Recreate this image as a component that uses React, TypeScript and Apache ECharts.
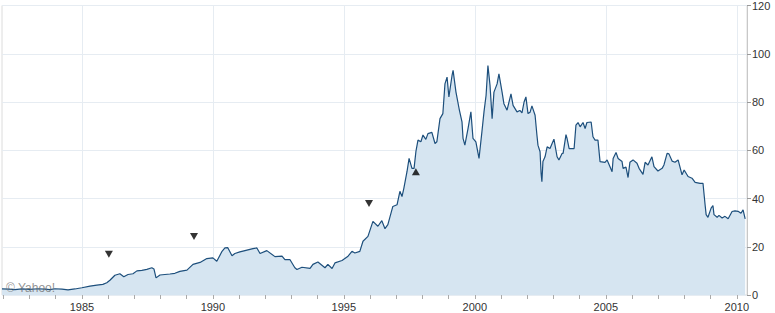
import React, { useEffect, useRef } from "react";
import * as echarts from "echarts";

// Decimal-year dates and closing prices
const years = [
  1981.95, 1982.21, 1982.44, 1982.71, 1983.01, 1983.32, 1983.59, 1983.78, 1983.97, 1984.24,
  1984.47, 1984.73, 1985.0, 1985.31, 1985.57, 1985.8, 1985.95, 1986.07, 1986.26, 1986.45,
  1986.6, 1986.76, 1986.95, 1987.1, 1987.29, 1987.48, 1987.67, 1987.75, 1987.83, 1987.98,
  1988.17, 1988.36, 1988.55, 1988.74, 1989.01, 1989.24, 1989.51, 1989.77, 1990.0, 1990.15,
  1990.35, 1990.46, 1990.57, 1990.73, 1990.84, 1991.03, 1991.3, 1991.53, 1991.68, 1991.8,
  1992.06, 1992.37, 1992.64, 1992.75, 1992.94, 1993.13, 1993.21, 1993.4, 1993.71, 1993.82,
  1994.01, 1994.28, 1994.39, 1994.55, 1994.66, 1994.93, 1995.16, 1995.31, 1995.42, 1995.61,
  1995.73, 1995.92, 1996.11, 1996.3, 1996.45, 1996.57, 1996.68, 1996.87, 1997.03, 1997.14,
  1997.22, 1997.29, 1997.41, 1997.49, 1997.6, 1997.68, 1997.75, 1997.83, 1997.94, 1998.02,
  1998.13, 1998.21, 1998.36, 1998.48, 1998.55, 1998.67, 1998.78, 1998.86, 1998.94, 1999.01,
  1999.13, 1999.17, 1999.28, 1999.4, 1999.51, 1999.55, 1999.62, 1999.74, 1999.85, 1999.93,
  2000.04, 2000.16, 2000.27, 2000.35, 2000.43, 2000.5, 2000.58, 2000.66, 2000.73, 2000.85,
  2000.92, 2001.04, 2001.11, 2001.23, 2001.38, 2001.46, 2001.61, 2001.72, 2001.8, 2001.88,
  2001.95, 2002.03, 2002.11, 2002.18, 2002.3, 2002.37, 2002.41, 2002.49, 2002.53, 2002.56,
  2002.6, 2002.68, 2002.76, 2002.87, 2002.95, 2003.02, 2003.14, 2003.21, 2003.33, 2003.37,
  2003.48, 2003.52, 2003.6, 2003.71, 2003.79, 2003.86, 2003.94, 2004.02, 2004.13, 2004.21,
  2004.28, 2004.44, 2004.51, 2004.59, 2004.7, 2004.78, 2004.97, 2005.05, 2005.16, 2005.24,
  2005.28, 2005.39, 2005.47, 2005.62, 2005.66, 2005.77, 2005.85, 2005.92, 2006.04, 2006.19,
  2006.27, 2006.42, 2006.5, 2006.61, 2006.76, 2006.84, 2006.99, 2007.15, 2007.22, 2007.34,
  2007.41, 2007.53, 2007.64, 2007.76, 2007.91, 2007.99, 2008.14, 2008.29, 2008.41, 2008.6,
  2008.71, 2008.79, 2008.83, 2008.9, 2009.02, 2009.09, 2009.13, 2009.25, 2009.32, 2009.44,
  2009.55, 2009.67, 2009.82, 2009.93, 2010.05, 2010.16, 2010.24, 2010.32,
];

const prices = [
  2.5, 2.4, 2.2, 2.5, 2.3, 2.6, 2.4, 2.2, 2.6, 2.4,
  2.1, 2.5, 3.0, 3.7, 4.1, 4.4, 5.1, 6.1, 8.2, 8.8,
  7.6, 8.5, 8.8, 10.0, 10.2, 10.6, 11.3, 10.8, 7.1, 8.3,
  8.5, 8.7, 9.0, 9.8, 10.3, 12.7, 13.5, 15.1, 15.4, 14.0,
  18.1, 19.5, 19.6, 16.3, 17.2, 17.9, 18.6, 19.2, 19.5, 17.2,
  18.4, 15.9, 16.1, 14.7, 14.7, 11.3, 10.6, 11.5, 11.0, 12.7,
  13.7, 11.3, 12.7, 11.0, 13.3, 14.3, 16.1, 18.1, 17.4, 18.1,
  22.3, 24.3, 30.5, 28.5, 30.8, 27.5, 29.2, 36.7, 37.4, 43.0,
  40.8, 44.2, 51.1, 56.6, 52.5, 52.5, 59.4, 64.2, 63.5, 66.3,
  64.5, 66.9, 67.4, 62.8, 63.5, 73.1, 75.2, 87.5, 90.3, 82.1,
  91.0, 93.1, 84.1, 77.2, 71.8, 64.9, 62.1, 69.0, 75.9, 64.9,
  63.5, 56.6, 67.6, 75.9, 82.8, 95.1, 86.9, 73.1, 84.1, 87.5,
  91.7, 84.1, 79.3, 76.6, 83.4, 78.6, 75.9, 76.5, 75.5, 80.0,
  82.1, 75.2, 75.8, 78.4, 74.5, 66.3, 62.1, 59.4, 50.4, 47.0,
  55.3, 57.3, 61.4, 60.7, 62.8, 64.6, 57.3, 56.0, 58.7, 58.7,
  66.5, 64.9, 60.7, 60.7, 60.7, 70.4, 71.5, 69.7, 71.5, 69.0,
  71.5, 71.7, 65.6, 64.2, 64.2, 55.3, 55.0, 56.0, 53.2, 51.1,
  56.6, 59.1, 56.6, 55.3, 52.5, 53.0, 48.7, 55.0, 56.0, 54.6,
  52.5, 50.0, 55.0, 53.9, 57.3, 53.2, 51.4, 52.5, 53.9, 58.7,
  58.5, 55.5, 55.0, 56.0, 49.8, 51.8, 49.1, 48.4, 46.7, 46.3,
  46.3, 37.4, 33.3, 32.2, 36.0, 37.1, 33.3, 32.2, 33.0, 31.9,
  32.6, 31.6, 34.6, 34.9, 34.7, 33.9, 35.3, 31.6,
];

// Event markers (splits / dividends)
const eventYears = [1986.03, 1989.28, 1995.96, 1997.75];
const eventLevels = [16.9, 24.3, 37.9, 51.1];
const eventPointsDown = [true, true, true, false];

const minorTickYears = [
  1982, 1983, 1984, 1985, 1986, 1987, 1988, 1989, 1990, 1991, 1992, 1993, 1994, 1995,
  1996, 1997, 1998, 1999, 2000, 2001, 2002, 2003, 2004, 2005, 2006, 2007, 2008, 2009, 2010,
];
const labelYears = [1985, 1990, 1995, 2000, 2005, 2010];

const X_MIN = 1981.95;
const X_MAX = 2010.39;
const FONT = "'Liberation Sans', Arial, sans-serif";

export default function App() {
  const ref = useRef<HTMLDivElement>(null);

  useEffect(() => {
    if (!ref.current) return;
    const chart = echarts.init(ref.current, undefined, { renderer: "svg" });
    const gridColor = "#e6ecf2";
    chart.setOption({
      animation: false,
      grid: {
        left: 2,
        top: 3,
        right: 28,
        bottom: 18,
        show: true,
        borderColor: "#dcdcdc",
        borderWidth: 1,
        backgroundColor: "transparent",
      },
      xAxis: [
        {
          type: "value",
          min: X_MIN,
          max: X_MAX,
          position: "bottom",
          axisLine: { show: false },
          axisTick: {
            show: true,
            customValues: minorTickYears,
            length: 4,
            lineStyle: { color: "#aaaaaa" },
          },
          axisLabel: { show: false },
          splitLine: { show: false },
        },
        {
          type: "value",
          min: X_MIN,
          max: X_MAX,
          position: "bottom",
          axisLine: { show: false },
          axisTick: { show: false, customValues: labelYears },
          axisLabel: {
            customValues: labelYears,
            formatter: (v: number) => String(Math.round(v)),
            margin: 6,
            color: "#333333",
            fontSize: 11,
            fontFamily: FONT,
          },
          splitLine: { show: true, lineStyle: { color: gridColor, width: 1 } },
        },
      ],
      yAxis: {
        type: "value",
        position: "right",
        min: 0,
        max: 120,
        interval: 20,
        axisLine: { show: true, lineStyle: { color: "#c8c8c8" } },
        axisTick: { show: true, length: 4, lineStyle: { color: "#999999" } },
        axisLabel: { margin: 5, color: "#333333", fontSize: 11, fontFamily: FONT },
        splitLine: { show: true, lineStyle: { color: gridColor, width: 1 } },
      },
      series: [
        {
          type: "line",
          xAxisIndex: 0,
          data: years.map((y, i) => [y, prices[i]]),
          showSymbol: false,
          symbol: "none",
          lineStyle: { color: "#1d4f7c", width: 1.2 },
          areaStyle: { color: "#d6e5f1", opacity: 1 },
          z: 2,
        },
        {
          type: "scatter",
          xAxisIndex: 0,
          symbol: "triangle",
          symbolSize: [8, 7],
          itemStyle: { color: "#000000" },
          data: eventYears.map((y, i) => ({
            value: [y, eventLevels[i]],
            symbolRotate: eventPointsDown[i] ? 180 : 0,
          })),
          z: 5,
        },
      ],
      graphic: [
        {
          type: "text",
          left: 6,
          top: 282,
          z: 100,
          style: {
            text: "© Yahoo!",
            fill: "rgba(110,110,110,0.75)",
            font: `12px ${FONT}`,
          },
        },
      ],
    });
    return () => chart.dispose();
  }, []);

  return (
    <div
      ref={ref}
      style={{ position: "fixed", left: 0, top: 0, width: 775, height: 313, background: "#fff" }}
    />
  );
}
